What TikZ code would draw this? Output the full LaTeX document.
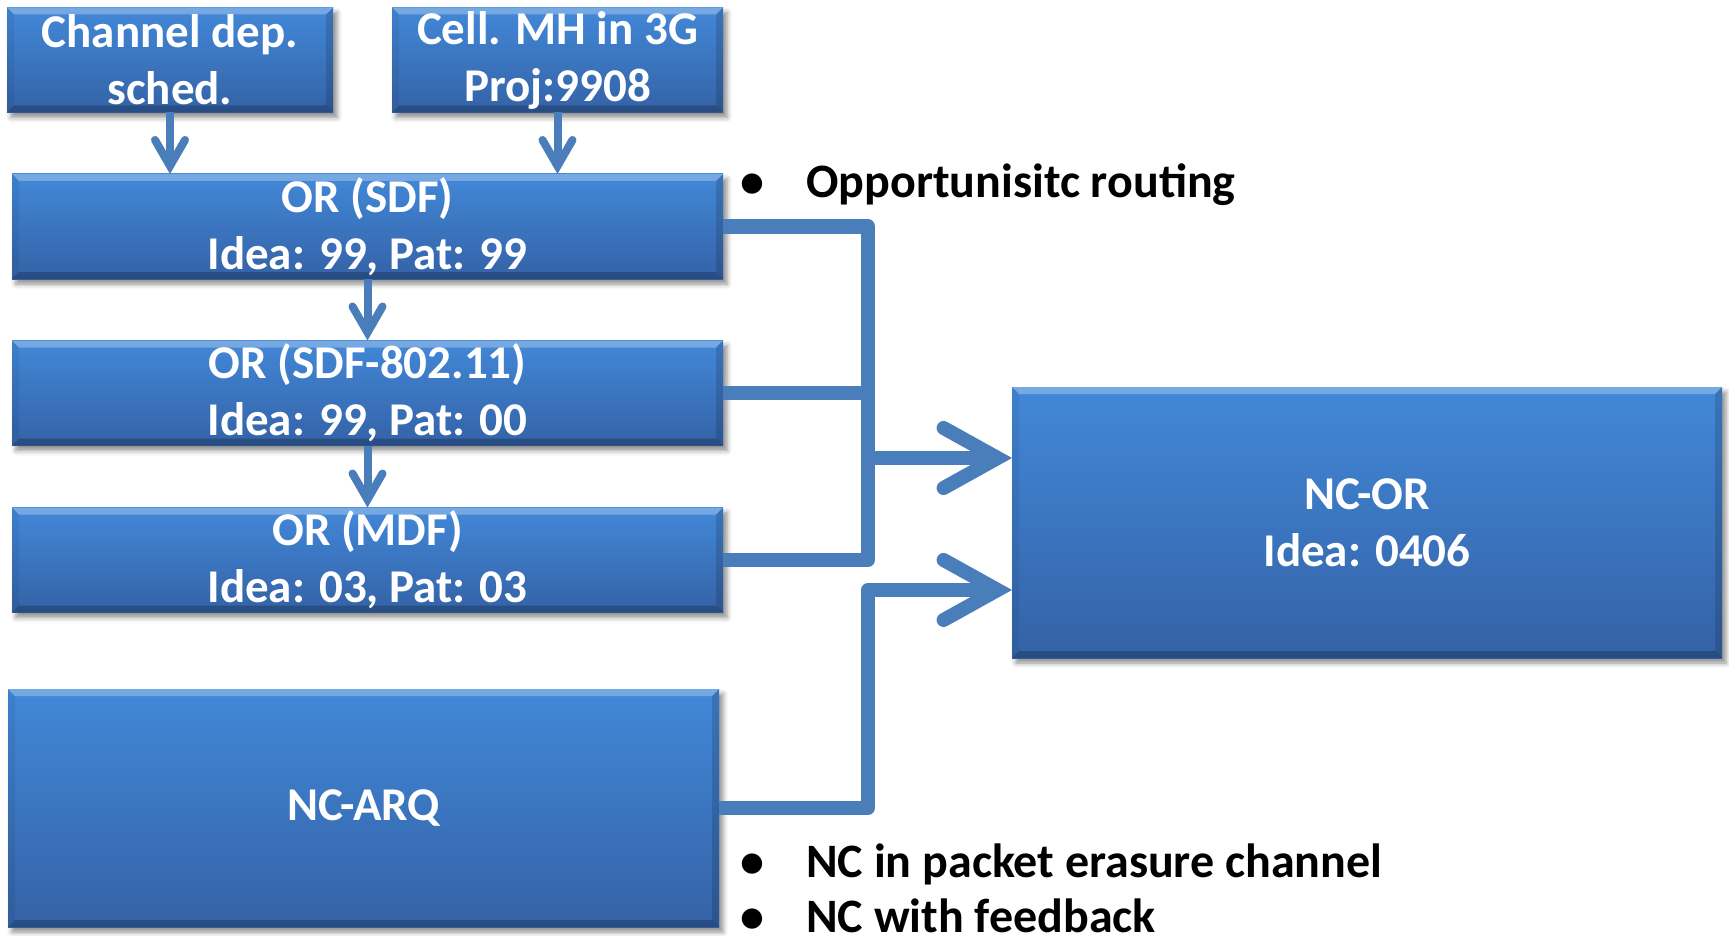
\documentclass[tikz,border=0pt]{standalone}
\usepackage{fontspec}
\setmainfont{Carlito}
\usetikzlibrary{arrows.meta,calc,shadows.blur}

\definecolor{boxtop}{HTML}{4288D8}
\definecolor{boxbot}{HTML}{3462A6}
\definecolor{linkblue}{HTML}{4A7EBB}

\tikzset{
  blk/.style={rectangle, inner sep=0pt, outer sep=0pt,
    top color=boxtop, bottom color=boxbot, text=white, align=center,
    font=\fontsize{47}{57}\selectfont\bfseries,
    blur shadow={shadow xshift=4pt, shadow yshift=-5pt,
      shadow blur radius=5pt, shadow opacity=45},
    path picture={
      \path (path picture bounding box.north west) coordinate (pp1)
            (path picture bounding box.north east) coordinate (pp2)
            (path picture bounding box.south east) coordinate (pp3)
            (path picture bounding box.south west) coordinate (pp4);
      % bevelled rim
      \fill[white, opacity=.28] (pp1) -- (pp2) -- ($(pp2)+(-7pt,-7pt)$) -- ($(pp1)+(7pt,-7pt)$) -- cycle;
      \fill[black, opacity=.22] (pp4) -- (pp3) -- ($(pp3)+(-7pt,7pt)$) -- ($(pp4)+(7pt,7pt)$) -- cycle;
      \fill[black, opacity=.06] (pp1) -- (pp4) -- ($(pp4)+(7pt,7pt)$) -- ($(pp1)+(7pt,-7pt)$) -- cycle;
      \fill[black, opacity=.14] (pp2) -- (pp3) -- ($(pp3)+(-7pt,7pt)$) -- ($(pp2)+(-7pt,-7pt)$) -- cycle;
    }},
  feed/.style={draw=linkblue, line width=8pt,
    -{Straight Barb[length=26pt, width=30pt, line cap=round, line join=miter]}},
  conn/.style={draw=linkblue, line width=14pt, line join=round},
  connarrow/.style={conn,
    -{Straight Barb[length=54pt, width=60pt, line cap=round, line join=miter]}},
  bullet/.style={inner sep=0pt, anchor=base, font=\fontsize{48}{55}\selectfont\bfseries},
  item/.style={inner sep=0pt, anchor=base west, font=\fontsize{48}{55}\selectfont\bfseries},
}

\begin{document}
\begin{tikzpicture}[x=1pt, y=-1pt]
\useasboundingbox (0,0) rectangle (1729,936);

% source boxes
\node[blk, minimum width=326pt, minimum height=105pt] (chs) at (170,60) {Channel dep.\\sched.};
\node[blk, minimum width=331pt, minimum height=105pt] (cell) at (557.5,60) {Cell. MH in 3G\\Proj:9908};

% opportunistic routing chain
\node[blk, minimum width=711pt, minimum height=105pt] (sdf) at (367.5,226.5) {OR (SDF)\\Idea: 99, Pat: 99};
\node[blk, minimum width=711pt, minimum height=105pt] (sdfw) at (367.5,393) {OR (SDF-802.11)\\Idea: 99, Pat: 00};
\node[blk, minimum width=711pt, minimum height=105pt] (mdf) at (367.5,560) {OR (MDF)\\Idea: 03, Pat: 03};

% network coding
\node[blk, minimum width=711pt, minimum height=238pt] (arq) at (363.5,808) {NC-ARQ};
\node[blk, minimum width=710pt, minimum height=271pt] (ncor) at (1367,522.5) {NC-OR\\Idea: 0406};

% short feeds
\draw[feed] (chs.south) -- (chs.south |- sdf.north);
\draw[feed] (cell.south) -- (cell.south |- sdf.north);
\draw[feed] (sdf.south) -- (sdfw.north);
\draw[feed] (sdfw.south) -- (mdf.north);

% merge trunk and inputs of NC-OR
\coordinate (jx) at (868,0);
\coordinate (inA) at ($(ncor.north west)!0.262!(ncor.south west)$);
\coordinate (inB) at ($(ncor.north west)!0.749!(ncor.south west)$);
\draw[conn] (sdf.east) -- (sdf.east -| jx) -- (mdf.east -| jx) -- (mdf.east);
\draw[conn] (sdfw.east) -- (sdfw.east -| jx);
\draw[connarrow] (inA -| jx) -- (inA);
\draw[connarrow] (arq.east) -- (arq.east -| jx) -- (inB -| jx) -- (inB);

% bullet notes
\node[bullet] (b1) at (752,197) {•};
\node[item] (t1) at (806,197) {Opportunisitc routing};
\node[bullet] (b2) at (752,877) {•};
\node[item] (t2) at (806,877) {NC in packet erasure channel};
\node[bullet] (b3) at (752,932) {•};
\node[item] (t3) at (806,932) {NC with feedback};
\end{tikzpicture}
\end{document}
